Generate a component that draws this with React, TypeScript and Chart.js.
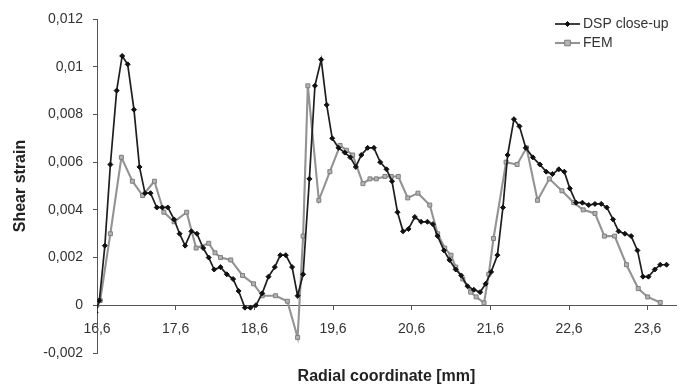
import React, { useEffect, useRef } from 'react';
import { Chart, registerables } from 'chart.js';

Chart.register(...registerables);

const seriesNames = ['DSP close-up', 'FEM'];
const xTitle = 'Radial coordinate [mm]';
const yTitle = 'Shear strain';
const xTickValues = [16.6, 17.6, 18.6, 19.6, 20.6, 21.6, 22.6, 23.6];
const xMin = 16.6;
const xMax = 23.96;
const yMin = -0.002;
const yMax = 0.012;
const yStep = 0.002;

const dspX = [
  16.58, 16.63, 16.70, 16.77, 16.85, 16.92, 16.99, 17.07, 17.14, 17.21,
  17.28, 17.36, 17.43, 17.50, 17.58, 17.65, 17.72, 17.80, 17.87, 17.95,
  18.02, 18.09, 18.17, 18.25, 18.33, 18.40, 18.48, 18.55, 18.62, 18.70,
  18.78, 18.86, 18.93, 19.00, 19.08, 19.15, 19.22, 19.30, 19.37, 19.45,
  19.52, 19.59, 19.67, 19.75, 19.82, 19.89, 19.96, 20.04, 20.12, 20.20,
  20.28, 20.35, 20.42, 20.49, 20.56, 20.64, 20.72, 20.80, 20.87, 20.93,
  21.01, 21.08, 21.16, 21.23, 21.31, 21.39, 21.47, 21.54, 21.61, 21.69,
  21.76, 21.82, 21.90, 21.97, 22.05, 22.14, 22.23, 22.31, 22.39, 22.47,
  22.54, 22.61, 22.69, 22.77, 22.85, 22.93, 23.01, 23.08, 23.16, 23.23,
  23.31, 23.39, 23.47, 23.54, 23.61, 23.69, 23.76, 23.84,
];
const dspY = [
  -0.0003, 0.0002, 0.0025, 0.0059, 0.0090, 0.01045, 0.0101, 0.0082, 0.0058, 0.0047,
  0.0047, 0.0041, 0.0041, 0.0041, 0.0036, 0.0030, 0.0025, 0.0031, 0.0030, 0.0024,
  0.0020, 0.0015, 0.0016, 0.0013, 0.0011, 0.0006, -0.0001, -0.0001, 0.0000, 0.0005,
  0.0012, 0.0016, 0.0021, 0.0021, 0.0016, 0.0004, 0.0013, 0.0053, 0.0092, 0.0103,
  0.0084, 0.0070, 0.0066, 0.0064, 0.0062, 0.0058, 0.0063, 0.0066, 0.0066, 0.0060,
  0.0057, 0.0052, 0.0039, 0.0031, 0.0032, 0.0037, 0.0035, 0.0035, 0.0034, 0.0029,
  0.0023, 0.0019, 0.0015, 0.00125, 0.0008, 0.00065, 0.00055, 0.0009, 0.0014, 0.0021,
  0.0041, 0.0063, 0.0078, 0.0075, 0.0066, 0.0062, 0.0059, 0.0056, 0.0055, 0.0057,
  0.0056, 0.0049, 0.0043, 0.0043, 0.0042, 0.00425, 0.00425, 0.0041, 0.0036, 0.0031,
  0.0030, 0.0029, 0.0023, 0.0012, 0.0012, 0.0015, 0.0017, 0.0017,
];

const femX = [
  16.60, 16.64, 16.77, 16.91, 17.05, 17.18, 17.33, 17.45, 17.58, 17.74,
  17.86, 18.02, 18.10, 18.17, 18.30, 18.45, 18.59, 18.70, 18.87, 19.02,
  19.15, 19.22, 19.28, 19.42, 19.56, 19.69, 19.77, 19.85, 19.98, 20.07,
  20.15, 20.26, 20.34, 20.43, 20.55, 20.68, 20.83, 20.93, 21.02, 21.10,
  21.16, 21.25, 21.35, 21.42, 21.52, 21.58, 21.64, 21.80, 21.94, 22.06,
  22.20, 22.35, 22.51, 22.66, 22.78, 22.93, 23.05, 23.18, 23.33, 23.48,
  23.60, 23.76,
];
const femY = [
  0.0000, 0.0002, 0.0030, 0.0062, 0.0052, 0.0046, 0.0052, 0.0039, 0.0035, 0.0039,
  0.0024, 0.0026, 0.0022, 0.0020, 0.0019, 0.00125, 0.0009, 0.0004, 0.0004, 0.00017,
  -0.00135, 0.0029, 0.0092, 0.0044, 0.0056, 0.0067, 0.0065, 0.0063, 0.0051, 0.0053,
  0.0053, 0.0054, 0.0054, 0.0054, 0.0045, 0.0047, 0.0042, 0.0030, 0.0024, 0.0021,
  0.0016, 0.0011, 0.00055, 0.00035, 0.0001, 0.0013, 0.0028, 0.0060, 0.0059, 0.0066,
  0.0044, 0.0053, 0.0048, 0.0043, 0.0040, 0.00385, 0.0029, 0.0029, 0.0017, 0.0007,
  0.00035, 0.00012,
];

const FONT = '"Liberation Sans", Arial, Helvetica, sans-serif';

function fmt(v: number): string {
  return String(parseFloat(Number(v).toFixed(4))).replace('.', ',');
}

function drawMarker(ctx: CanvasRenderingContext2D, style: string, x: number, y: number, r: number, fill: string, stroke: string) {
  ctx.beginPath();
  if (style === 'rectRot') {
    ctx.moveTo(x, y - r);
    ctx.lineTo(x + r, y);
    ctx.lineTo(x, y + r);
    ctx.lineTo(x - r, y);
    ctx.closePath();
  } else {
    ctx.rect(x - r, y - r, 2 * r, 2 * r);
  }
  ctx.fillStyle = fill;
  ctx.fill();
  ctx.strokeStyle = stroke;
  ctx.lineWidth = 1;
  ctx.stroke();
}

const legendPlugin = {
  id: 'overlayLegend',
  afterDraw(chart: any) {
    const ctx: CanvasRenderingContext2D = chart.ctx;
    const rows = [24, 43];
    chart.data.datasets.forEach((ds: any, i: number) => {
      const y = rows[i];
      ctx.save();
      ctx.strokeStyle = ds.borderColor;
      ctx.lineWidth = ds.borderWidth;
      ctx.beginPath();
      ctx.moveTo(555, y);
      ctx.lineTo(580, y);
      ctx.stroke();
      drawMarker(ctx, ds.pointStyle, 567.5, y, ds.pointRadius, ds.pointBackgroundColor, ds.pointBorderColor);
      ctx.fillStyle = '#333';
      ctx.font = '14px ' + FONT;
      ctx.textBaseline = 'middle';
      ctx.textAlign = 'left';
      ctx.fillText(ds.label, 583, y);
      ctx.restore();
    });
  },
};

export default function App() {
  const ref = useRef<HTMLCanvasElement | null>(null);

  useEffect(() => {
    document.body.style.margin = '0';
    const canvas = ref.current;
    if (!canvas) return;
    Chart.defaults.font.family = FONT;
    const chart = new Chart(canvas, {
      type: 'scatter',
      data: {
        datasets: [
          {
            label: seriesNames[0],
            data: dspX.map((x, i) => ({ x, y: dspY[i] })),
            showLine: true,
            borderColor: '#1e1e1e',
            borderWidth: 1.7,
            pointStyle: 'rectRot',
            pointRadius: 2.5,
            pointBackgroundColor: '#111',
            pointBorderColor: '#111',
            pointBorderWidth: 1,
            tension: 0,
            order: 1,
          },
          {
            label: seriesNames[1],
            data: femX.map((x, i) => ({ x, y: femY[i] })),
            showLine: true,
            borderColor: '#939393',
            borderWidth: 2.1,
            pointStyle: 'rect',
            pointRadius: 2.8,
            pointBackgroundColor: '#b4b4b4',
            pointBorderColor: '#7e7e7e',
            pointBorderWidth: 1,
            tension: 0,
            order: 2,
          },
        ],
      },
      options: {
        animation: false,
        responsive: false,
        events: [],
        layout: { padding: { left: 0, right: 1, top: 19, bottom: 0 } },
        plugins: {
          legend: { display: false },
          tooltip: { enabled: false },
          title: {
            display: true,
            position: 'bottom',
            fullSize: false,
            text: xTitle,
            color: '#222',
            font: { size: 16, weight: 'bold', lineHeight: 1 },
            padding: { top: 16, bottom: 0 },
          },
        },
        scales: {
          x: {
            type: 'linear',
            position: { y: 0 },
            min: xMin,
            max: xMax,
            afterBuildTicks: (scale: any) => {
              scale.ticks = xTickValues.map((v) => ({ value: v }));
            },
            ticks: {
              autoSkip: false,
              maxRotation: 0,
              color: '#333',
              font: { size: 14 },
              padding: 11,
              callback: (v: any) => Number(v).toFixed(1).replace('.', ','),
            },
            grid: { display: true, drawOnChartArea: false, drawTicks: true, tickLength: 4, color: '#555' },
            border: { display: true, color: '#555', dash: [1, 1], width: 1 },
          },
          y: {
            type: 'linear',
            position: 'left',
            min: yMin,
            max: yMax,
            afterFit: (scale: any) => {
              scale.width = 97;
            },
            ticks: {
              stepSize: yStep,
              color: '#333',
              font: { size: 14 },
              padding: 10,
              callback: (v: any) => fmt(v),
            },
            title: {
              display: true,
              text: yTitle,
              color: '#222',
              font: { size: 16, weight: 'bold' },
              padding: { top: 11, bottom: 0 },
            },
            grid: { display: true, drawOnChartArea: false, drawTicks: true, tickLength: 4, color: '#555' },
            border: { display: true, color: '#555', dash: [1, 1], width: 1 },
          },
        },
      },
      plugins: [legendPlugin],
    } as any);
    return () => chart.destroy();
  }, []);

  return (
    <div style={{ position: 'fixed', left: 0, top: 0, width: 681, height: 385, background: '#fff' }}>
      <canvas ref={ref} width={681} height={385} style={{ width: 681, height: 385, display: 'block' }} />
    </div>
  );
}
